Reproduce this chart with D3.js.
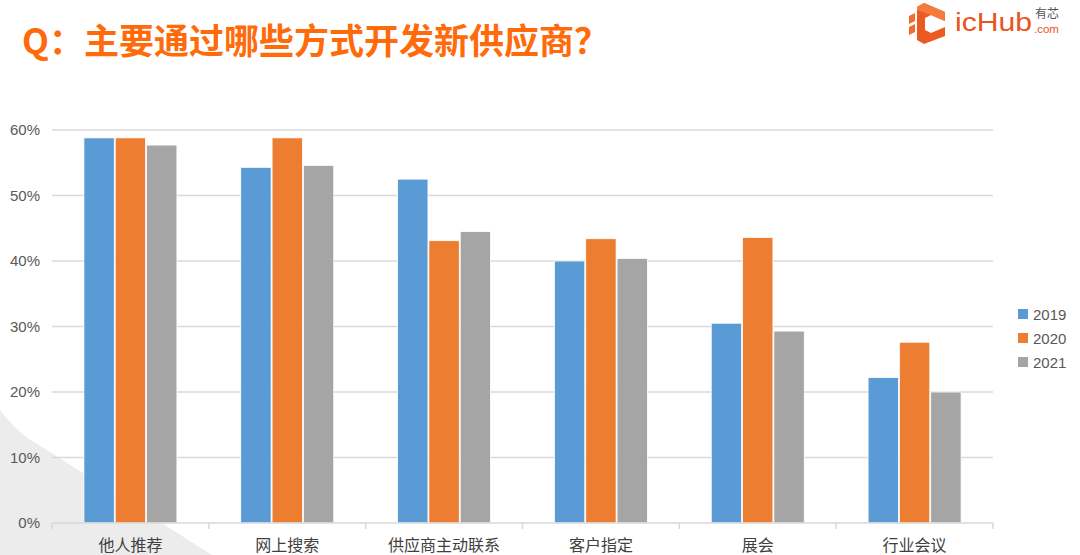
<!DOCTYPE html>
<html><head><meta charset="utf-8">
<script src="https://cdn.jsdelivr.net/npm/d3@7"></script>
<style>html,body{margin:0;padding:0;background:#fff;overflow:hidden}</style>
</head><body>
<svg id="c" width="1080" height="555"></svg>
<script>
const categories = ["他人推荐","网上搜索","供应商主动联系","客户指定","展会","行业会议"];
const years = ["2019","2020","2021"];
const v2019 = [58.8, 54.3, 52.5, 40.0, 30.5, 22.2];
const v2020 = [58.8, 58.8, 43.1, 43.4, 43.6, 27.6];
const v2021 = [57.7, 54.6, 44.5, 40.4, 29.3, 20.0];
const yTicks = [0,10,20,30,40,50,60];
const colors = ["#5B9BD5","#ED7D31","#A5A5A5"];

(function(){
const series = [v2019, v2020, v2021];
const svg = d3.select("#c");
const font = "'Noto Sans CJK SC','Noto Sans',sans-serif";
const latin = "'Liberation Sans',Arial,sans-serif";

// background decorative shape
svg.append("path")
  .attr("d","M0,410 C12,425 22,436 42,447 L212,555 L0,555 Z")
  .attr("fill","#ececec");

// title
svg.append("text").attr("x",22).attr("y",54)
  .attr("font-family",font).attr("font-weight","bold").attr("font-size",35)
  .attr("fill","#FF6A0A").text("Q：主要通过哪些方式开发新供应商？");

// logo
const logo = svg.append("g");
logo.append("path").attr("d","M924,3 L945,12 L945,21 L931,15 L925,18 L925,30 L931,33 L945,27 L945,36 L924,44 L917,40 L917,7 Z").attr("fill","#EA5A22");
logo.append("path").attr("d","M924,3 L945,12 L945,21 L931,15 L917,10 L917,7 Z").attr("fill","#F47A3E");
logo.append("path").attr("d","M909,16 L915,13 L915,21 L909,24 Z M909,27 L915,24 L915,32 L909,35 Z").attr("fill","#F26B2F");
logo.append("text").attr("x",955).attr("y",31).attr("font-family",latin)
  .attr("font-size",25).attr("textLength",77).attr("lengthAdjust","spacingAndGlyphs")
  .attr("fill","#E8541E").text("icHub");
logo.append("text").attr("x",1035).attr("y",18).attr("font-family",font)
  .attr("font-size",12).attr("fill","#555").text("有芯");
logo.append("text").attr("x",1034).attr("y",33).attr("font-family",latin)
  .attr("font-size",11.5).attr("fill","#E8541E").text(".com");

// scales
const pLeft = 52, pRight = 993, pTop = 130, pBottom = 523;
const x0 = d3.scaleBand().domain(categories).range([pLeft,pRight]).padding(0);
const step = x0.step();
const gw = 93;
const x1 = d3.scaleBand().domain(years).range([(step-gw)/2,(step+gw)/2]).paddingInner(0.03);
const y = d3.scaleLinear().domain([0,60]).range([pBottom,pTop]);

// gridlines
svg.append("g").selectAll("line").data(yTicks.filter(d=>d>0)).join("line")
  .attr("x1",pLeft).attr("x2",pRight).attr("y1",d=>y(d)).attr("y2",d=>y(d))
  .attr("stroke","#d9d9d9").attr("stroke-width",1.5);

// y labels
svg.append("g").selectAll("text").data(yTicks).join("text")
  .attr("x",40).attr("y",d=>y(d)+5).attr("text-anchor","end")
  .attr("font-family",latin).attr("font-size",15).attr("fill","#595959")
  .text(d=>d+"%");

// bars
const groups = svg.append("g").selectAll("g").data(categories).join("g")
  .attr("transform",d=>`translate(${x0(d)},0)`);
groups.selectAll("rect").data((d,i)=>years.map((yr,j)=>({yr,v:series[j][i],j}))).join("rect")
  .attr("x",d=>x1(d.yr)).attr("width",x1.bandwidth())
  .attr("y",d=>y(d.v)).attr("height",d=>pBottom-y(d.v))
  .attr("fill",d=>colors[d.j]).attr("stroke","#fff").attr("stroke-width",0.8);

// x axis
const xa = svg.append("g");
xa.append("line").attr("x1",pLeft).attr("x2",pRight).attr("y1",pBottom).attr("y2",pBottom)
  .attr("stroke","#d9d9d9").attr("stroke-width",1.5);
const bounds = categories.map(c=>x0(c)).concat([pRight]);
xa.selectAll("line.t").data(bounds).join("line").attr("class","t")
  .attr("x1",d=>d).attr("x2",d=>d).attr("y1",pBottom).attr("y2",pBottom+6)
  .attr("stroke","#d9d9d9").attr("stroke-width",1.5);
xa.selectAll("text").data(categories).join("text")
  .attr("x",d=>x0(d)+step/2).attr("y",551).attr("text-anchor","middle")
  .attr("font-family",font).attr("font-size",16).attr("fill","#404040")
  .text(d=>d);

// legend
const lg = svg.append("g").selectAll("g").data(years).join("g")
  .attr("transform",(d,i)=>`translate(1018,${309+i*24})`);
lg.append("rect").attr("width",10).attr("height",10).attr("fill",(d,i)=>colors[i]);
lg.append("text").attr("x",15).attr("y",11)
  .attr("font-family",latin).attr("font-size",15).attr("fill","#595959")
  .text(d=>d);
})();
</script>
</body></html>
